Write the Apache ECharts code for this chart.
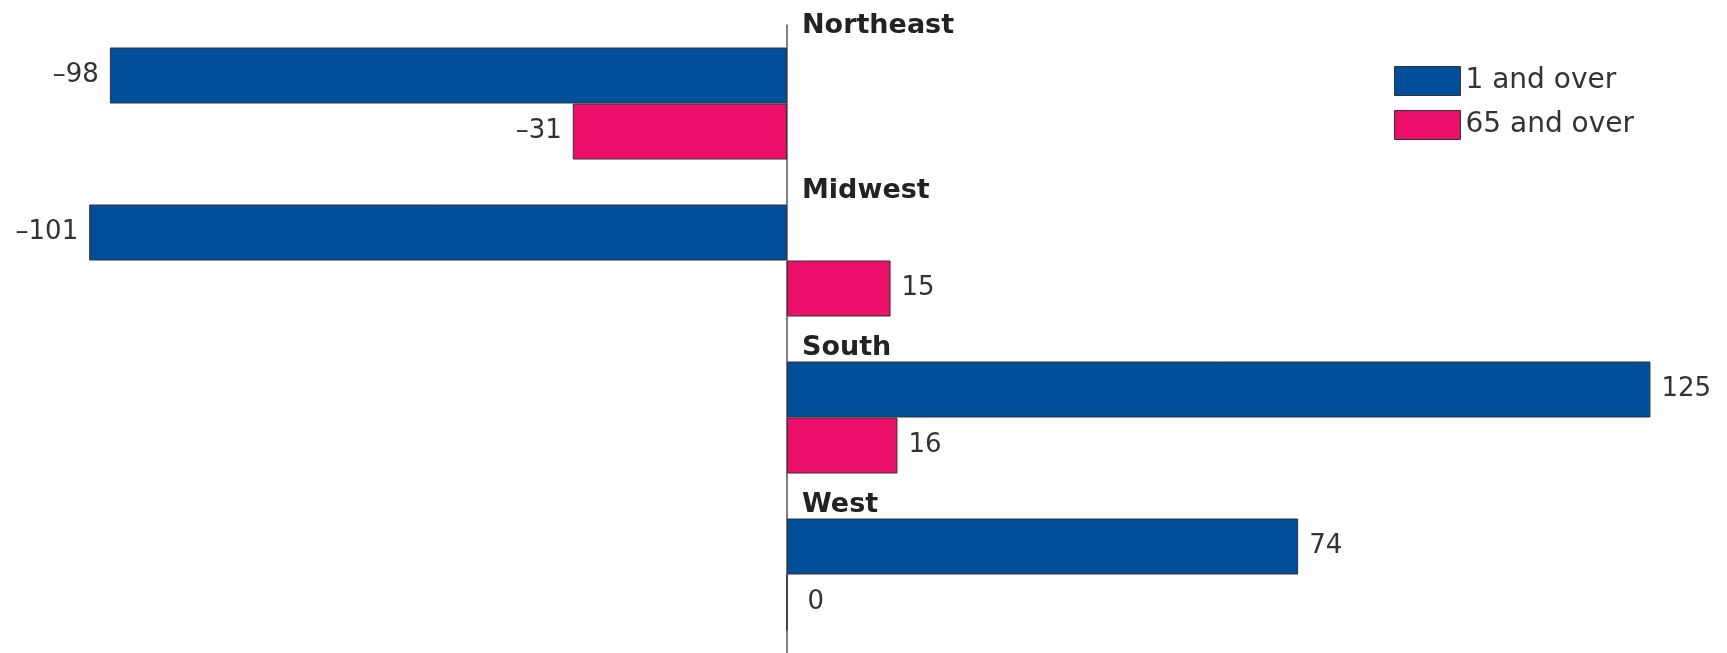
<!DOCTYPE html>
<html>
<head>
<meta charset="utf-8">
<script src="https://cdn.jsdelivr.net/npm/echarts@6/dist/echarts.min.js"></script>
<style>
  html, body { margin: 0; padding: 0; background: #fff; }
  #chart { width: 1727px; height: 653px; }
</style>
</head>
<body>
<div id="chart"></div>
<script>
var regions = ['Northeast', 'Midwest', 'South', 'West'];
var allAges = [-98, -101, 125, 74];
var age65 = [-31, 15, 16, 0];
var seriesNames = ['1 and over', '65 and over'];

function withLabels(values) {
    return values.map(function (v) {
        return {
            value: v,
            label: { position: v < 0 ? 'left' : 'right', distance: v === 0 ? 20 : 11 }
        };
    });
}

function dash(p) {
    return String(p.value).replace('-', '\u2013');
}

function picture(obj) {
    var catFont = { fontSize: 27, fontWeight: 'bold', color: '#222', fontFamily: 'DejaVu Sans' };
    var option = {
        animation: false,
        textStyle: { fontFamily: 'DejaVu Sans' },
        legend: {
            data: seriesNames,
            orient: 'vertical',
            left: 1389,
            top: 61,
            itemWidth: 66,
            itemHeight: 29,
            itemGap: 14,
            icon: 'rect',
            itemStyle: { borderColor: '#333', borderWidth: 1 },
            textStyle: { fontSize: 28, color: '#333' }
        },
        grid: {
            left: 27,
            right: 42,
            top: 25,
            height: 632
        },
        xAxis: {
            type: 'value',
            min: -110,
            max: 130,
            show: false
        },
        yAxis: {
            type: 'category',
            inverse: true,
            data: regions,
            axisLine: { onZero: true, lineStyle: { color: '#555', width: 1.5 } },
            axisTick: { show: false },
            axisLabel: {
                inside: true,
                margin: 775,
                verticalAlign: 'bottom',
                formatter: function (v, i) {
                    return i === 0 ? '{first|' + v + '}' : '{rest|' + v + '}';
                },
                rich: {
                    first: Object.assign({ padding: [0, 0, 64, 0] }, catFont),
                    rest: Object.assign({ padding: [0, 0, 56, 0] }, catFont)
                }
            }
        },
        series: [
            {
                name: seriesNames[0],
                type: 'bar',
                barWidth: 56,
                barGap: '0%',
                data: withLabels(allAges),
                itemStyle: { color: '#004f9b', borderColor: '#333', borderWidth: 1 },
                label: { show: true, fontSize: 26, color: '#333', formatter: dash }
            },
            {
                name: seriesNames[1],
                type: 'bar',
                barWidth: 56,
                barGap: '0%',
                data: withLabels(age65),
                itemStyle: { color: '#ec0f69', borderColor: '#333', borderWidth: 1 },
                label: { show: true, fontSize: 26, color: '#333', formatter: dash }
            }
        ]
    };
    obj.setOption(option);
}

var myChart1 = echarts.init(document.getElementById('chart'));
picture(myChart1);
</script>
</body>
</html>
